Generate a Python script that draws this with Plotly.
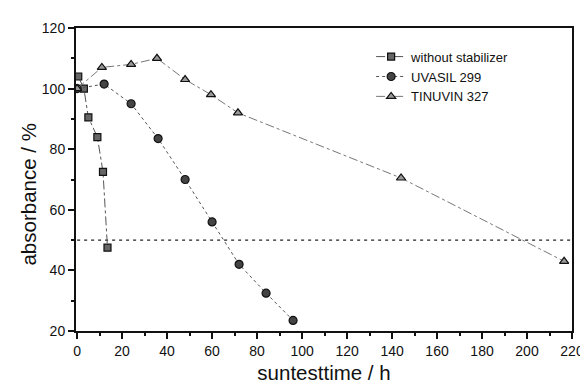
import plotly.graph_objects as go

# Data
x_none = [0.5, 3, 5, 9, 11.5, 13.5]
y_none = [104, 100, 90.5, 84, 72.5, 47.5]

x_uvasil = [0, 12, 24, 36, 48, 60, 72, 84, 96]
y_uvasil = [100, 101.5, 95, 83.5, 70, 56, 42, 32.5, 23.5]

x_tinuvin = [0, 11, 24, 35.5, 48, 59.5, 71.5, 144, 216.5]
y_tinuvin = [100, 107, 108, 110, 103, 98, 92, 70.5, 43]

ref_x = [0, 220]
ref_y = [50, 50]

x_ticks = list(range(0, 221, 20))
y_ticks = [20, 40, 60, 80, 100, 120]

font = "Liberation Sans, Arial, sans-serif"

fig = go.Figure()

fig.add_trace(go.Scatter(
    x=ref_x, y=ref_y, mode="lines", showlegend=False, hoverinfo="skip",
    line=dict(color="#222", width=1.2, dash="3px,4px")))

fig.add_trace(go.Scatter(
    x=x_none, y=y_none, mode="lines+markers", name="without stabilizer",
    line=dict(color="#555", width=1, dash="dashdot"),
    marker=dict(symbol="square", size=7, color="#666",
                line=dict(color="#111", width=1.2))))

fig.add_trace(go.Scatter(
    x=x_uvasil, y=y_uvasil, mode="lines+markers", name="UVASIL 299",
    line=dict(color="#555", width=1, dash="dot"),
    marker=dict(symbol="circle", size=8, color="#444",
                line=dict(color="#111", width=1.2))))

fig.add_trace(go.Scatter(
    x=x_tinuvin, y=y_tinuvin, mode="lines+markers", name="TINUVIN 327",
    line=dict(color="#777", width=1, dash="dashdot"),
    marker=dict(symbol="triangle-up", size=8, color="#999",
                line=dict(color="#111", width=1.2))))

fig.add_annotation(
    text="absorbance / %", textangle=-90, showarrow=False,
    xref="paper", yref="paper", x=-0.095, y=0.45,
    xanchor="center", yanchor="middle", font=dict(size=20.5))

fig.update_layout(
    width=588, height=385,
    margin=dict(l=68, r=15, t=18, b=55),
    paper_bgcolor="white", plot_bgcolor="white",
    font=dict(family=font, color="#111", size=14),
    legend=dict(x=0.595, y=0.955, xanchor="left", yanchor="top",
                bgcolor="rgba(0,0,0,0)", font=dict(size=13),
                tracegroupgap=0, itemwidth=30),
    xaxis=dict(range=[-0.5, 220], tickmode="array", tickvals=x_ticks,
               ticks="outside", ticklen=6, tickwidth=1.5, tickcolor="#111",
               minor=dict(ticks="outside", ticklen=3, dtick=10, tickcolor="#111"),
               showline=True, linecolor="#111", linewidth=2, mirror=True,
               showgrid=False, zeroline=False,
               title=dict(text="suntesttime / h", font=dict(size=20.5), standoff=8)),
    yaxis=dict(range=[20, 120], tickmode="array", tickvals=y_ticks,
               ticks="outside", ticklen=6, tickwidth=1.5, tickcolor="#111",
               minor=dict(ticks="outside", ticklen=3, dtick=10, tickcolor="#111"),
               showline=True, linecolor="#111", linewidth=2, mirror=True,
               showgrid=False, zeroline=False),
)

fig.write_html("out.html")
